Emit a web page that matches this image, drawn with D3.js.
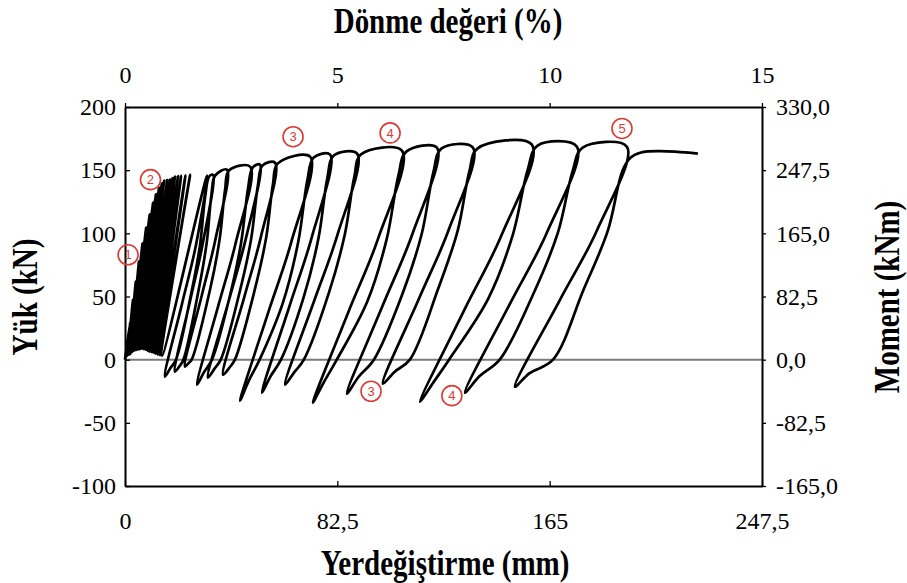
<!DOCTYPE html>
<html>
<head>
<meta charset="utf-8">
<script src="https://cdn.jsdelivr.net/npm/d3@7"></script>
<style>
  body { margin: 0; background: #fff; }
  svg text { font-family: "Liberation Serif", "Times New Roman", serif; }
</style>
</head>
<body>
<svg id="chart" width="907" height="583"></svg>
<script>
// axis ticks
const dispTicks = [0, 82.5, 165, 247.5];
const rotTicks = [0, 5, 10, 15];
const loadTicks = [-100, -50, 0, 50, 100, 150, 200];
const momentTicks = [-165, -82.5, 0, 82.5, 165, 247.5, 330];

// first small cycles [disp (mm), load (kN)]
const earlyLoops = [
  [0, 0],
  [2.0, 30.0], [1.0, 3.0],
  [3.1, 47.5], [1.6, 4.0],
  [4.2, 62.0], [2.0, 4.5],
  [5.4, 77.6], [2.3, 5.5],
  [6.8, 92.0], [2.9, 6.2],
  [8.2, 104.5], [3.5, 7.1],
  [9.6, 115.0], [4.3, 7.5],
  [10.9, 124.3], [5.1, 7.9],
  [12.0, 131.0], [5.8, 8.3],
  [13.2, 136.2], [6.6, 8.7],
  [14.3, 139.5], [7.4, 8.3],
  [15.2, 141.7], [8.2, 7.9],
  [16.4, 142.2], [9.0, 7.0],
  [17.5, 142.5], [9.7, 6.3],
  [18.5, 143.8], [10.5, 5.9],
  [19.4, 144.9], [11.3, 5.5],
  [20.6, 145.3], [12.0, 4.8],
  [21.8, 145.7], [12.8, 4.0],
  [23.5, 146.0], [13.6, 3.6],
  [25.3, 146.4], [14.4, 3.2]
];

// larger cycles: peak, unloading, hook, reloading
const loops = [
  [[31.9, 145.7], [27.5, 90.0], [22.1, 43.8], [15.5, -13.5], [17.6, -6.8], [19.8, 0], [25.5, 50.2], [29.1, 90.0], [31.2, 129.8], [32.7, 145.0]],
  [[34.2, 146.4], [30.2, 91.8], [25.3, 46.6], [19.4, -9.5], [21.3, -4.8], [22.7, 0], [28.4, 52.9], [31.7, 91.8], [33.6, 130.8], [35.0, 145.7]],
  [[39.6, 150.4], [35.2, 95.8], [29.8, 50.6], [23.3, -5.5], [24.8, -2.5], [25.9, 0], [33.2, 56.9], [36.8, 95.8], [38.9, 134.8], [40.4, 149.7]],
  [[48.6, 152.8], [43.0, 92.4], [36.2, 42.3], [28.0, -19.8], [30.7, -9.9], [33.8, 0], [40.6, 49.2], [45.1, 92.4], [47.8, 135.5], [49.6, 152.1]],
  [[52.4, 154.4], [46.9, 95.4], [40.3, 46.5], [32.2, -14.2], [34.8, -7.1], [37.2, 0], [44.5, 53.2], [49.0, 95.4], [51.6, 137.5], [53.4, 153.7]],
  [[58.3, 155.9], [52.8, 97.2], [46.2, 48.5], [38.1, -11.9], [40.7, -6.0], [42.7, 0], [50.4, 55.2], [54.9, 97.2], [57.5, 139.1], [59.3, 155.2]],
  [[71.9, 160.7], [64.6, 93.1], [55.6, 37.1], [44.7, -32.5], [48.2, -16.3], [52.3, 0], [61.3, 44.8], [67.3, 93.1], [70.8, 141.4], [73.3, 160.0]],
  [[79.7, 162.3], [72.5, 96.4], [63.8, 41.7], [53.2, -26.1], [56.6, -13.0], [60.6, 0], [69.4, 49.3], [75.2, 96.4], [78.6, 143.5], [81.1, 161.6]],
  [[90.2, 163.1], [82.6, 99.1], [73.4, 46.0], [62.2, -19.8], [65.8, -9.9], [69.5, 0], [79.3, 53.4], [85.4, 99.1], [89.1, 144.8], [91.6, 162.4]],
  [[107.6, 165.4], [98.3, 95.6], [86.8, 37.8], [73.0, -34.0], [77.5, -17.0], [82.3, 0], [94.1, 45.8], [101.7, 95.6], [106.2, 145.5], [109.3, 164.7]],
  [[121.2, 167.8], [111.7, 99.7], [100.2, 43.2], [86.2, -26.9], [90.8, -13.5], [96.7, 0], [107.6, 51.0], [115.3, 99.7], [119.8, 148.3], [122.9, 167.1]],
  [[135.2, 167.8], [125.7, 102.4], [114.2, 48.2], [100.2, -19.0], [104.8, -9.5], [110.7, 0], [121.6, 55.7], [129.3, 102.4], [133.8, 149.1], [136.9, 167.1]],
  [[158.1, 170.2], [146.4, 99.0], [132.0, 40.0], [114.6, -33.2], [120.3, -16.6], [125.9, 0], [141.1, 48.2], [150.7, 99.0], [156.4, 149.9], [160.3, 169.5]],
  [[175.6, 168.6], [163.9, 100.5], [149.5, 44.0], [132.1, -26.1], [137.8, -13.0], [145.6, 0], [158.6, 51.8], [168.2, 100.5], [173.9, 149.1], [177.8, 167.9]],
  [[195.0, 168.6], [183.3, 102.1], [168.9, 47.0], [151.5, -21.4], [157.2, -10.7], [166.3, 0], [178.0, 54.6], [187.6, 102.1], [193.3, 149.6]]
];

// last monotonic part
const tail = [[196.5, 160.0], [200.5, 164.0], [208.0, 165.0], [222.6, 163.1]];

// circled numbers
const markers = [
  { label: "1", disp: 1.2, load: 83 },
  { label: "2", disp: 9.9, load: 142.5 },
  { label: "3", disp: 65.3, load: 176.5 },
  { label: "4", disp: 103.0, load: 179.5 },
  { label: "5", disp: 193.1, load: 183.0 },
  { label: "3", disp: 95.6, load: -25.0 },
  { label: "4", disp: 127.0, load: -28.5 }
];

const svg = d3.select("#chart");
const plotLeft = 125, plotRight = 762, plotTop = 107, plotBottom = 486;

const x = d3.scaleLinear().domain([0, 247.5]).range([plotLeft, plotRight]);
const xTop = d3.scaleLinear().domain([0, 15]).range([plotLeft, plotRight]);
const y = d3.scaleLinear().domain([-100, 200]).range([plotBottom, plotTop]);
const yRight = d3.scaleLinear().domain([-165, 330]).range([plotBottom, plotTop]);

const comma = v => String(v).replace(".", ",");

function styleAxis(g) {
  g.attr("font-family", null).attr("font-size", null);
  g.select(".domain").attr("stroke", "#000").attr("stroke-width", 2);
  g.selectAll(".tick line").attr("stroke", "#000").attr("stroke-width", 1.3);
  g.selectAll(".tick text").attr("fill", "#000").style("font-size", "24px");
}

// zero line
svg.append("line")
  .attr("x1", plotLeft).attr("x2", plotRight)
  .attr("y1", y(0)).attr("y2", y(0))
  .attr("stroke", "#7a7a7a").attr("stroke-width", 2);

svg.append("g")
  .attr("transform", `translate(0,${plotBottom})`)
  .call(d3.axisBottom(x).tickValues(dispTicks).tickFormat(comma).tickSizeInner(-5).tickSizeOuter(0).tickPadding(26))
  .call(styleAxis);

svg.append("g")
  .attr("transform", `translate(0,${plotTop})`)
  .call(d3.axisTop(xTop).tickValues(rotTicks).tickFormat(comma).tickSizeInner(4).tickSizeOuter(0).tickPadding(20))
  .call(styleAxis);

svg.append("g")
  .attr("transform", `translate(${plotLeft},0)`)
  .call(d3.axisLeft(y).tickValues(loadTicks).tickFormat(comma).tickSizeInner(-5).tickSizeOuter(0).tickPadding(9))
  .call(styleAxis);

svg.append("g")
  .attr("transform", `translate(${plotRight},0)`)
  .call(d3.axisRight(yRight).tickValues(momentTicks).tickFormat(v => v.toFixed(1).replace(".", ",")).tickSizeInner(4).tickSizeOuter(0).tickPadding(10))
  .call(styleAxis);

// hysteresis curve
const points = earlyLoops.concat(...loops, tail);
const line = d3.line()
  .x(d => x(d[0]))
  .y(d => y(d[1]))
  .curve(d3.curveCatmullRom.alpha(0.5));

svg.append("path")
  .datum(points)
  .attr("d", line)
  .attr("fill", "none")
  .attr("stroke", "#000")
  .attr("stroke-width", 2.7)
  .attr("stroke-linejoin", "round");

// markers
const mk = svg.append("g").selectAll("g").data(markers).join("g")
  .attr("transform", d => `translate(${x(d.disp)},${y(d.load)})`);
mk.append("circle").attr("r", 10).attr("fill", "none").attr("stroke", "#dc3a36").attr("stroke-width", 1.6);
mk.append("text").text(d => d.label)
  .attr("text-anchor", "middle").attr("dy", "0.36em")
  .style("font-family", "'Liberation Sans', Arial, sans-serif")
  .style("font-size", "13px").attr("fill", "#dc3a36");

// axis titles
const title = (txt, tx, ty, rot) => svg.append("text")
  .attr("transform", `translate(${tx},${ty}) rotate(${rot}) scale(1,1.2)`)
  .attr("text-anchor", "middle").attr("dy", "0.35em")
  .style("font-size", "29px").style("font-weight", "bold")
  .text(txt);

title("Dönme değeri (%)", 448, 21, 0);
title("Yerdeğiştirme (mm)", 445, 563, 0);
title("Yük (kN)", 25, 297, -90);
title("Moment (kNm)", 887, 297, -90);
</script>
</body>
</html>
